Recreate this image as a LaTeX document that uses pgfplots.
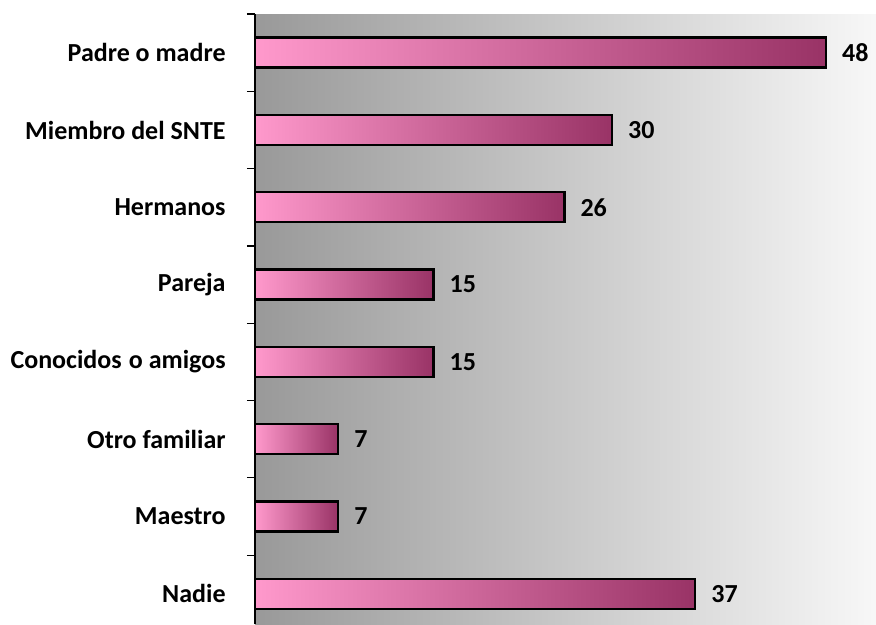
\documentclass[border=0pt]{standalone}
\usepackage{fontspec}
\setmainfont{Carlito}
\usepackage{pgfplots}
\pgfplotsset{compat=1.18}
\definecolor{barpink}{HTML}{FF99CC}
\definecolor{barplum}{HTML}{993366}
\pgfplotsset{
  gradbar/.style={draw=black, line width=1.2pt, left color=barpink, right color=barplum, bar shift=0pt},
}
\begin{document}
\begin{tikzpicture}[font=\fontsize{13}{15}\selectfont\bfseries]
\begin{axis}[
  scale only axis, width=310.5pt, height=305pt,
  xmin=0, xmax=52.2, ymin=-0.5, ymax=7.39,
  y dir=reverse,
  axis x line=none,
  axis y line*=left,
  ytick={0,...,7},
  yticklabels={Padre o madre, Miembro del SNTE, Hermanos, Pareja, Conocidos\hspace{0.05em} o amigos, Otro familiar, Maestro, Nadie},
  minor ytick={-0.5,0.5,...,6.5},
  major tick length=0pt, minor tick length=4pt, tick align=outside,
  tick style={black, line width=0.6pt},
  axis line style={black, line width=0.75pt},
  yticklabel style={inner sep=0pt, xshift=-14.5pt, font=\fontsize{13}{15}\selectfont\bfseries},
  axis background/.style={left color=black!40, right color=black!3},
  xbar, bar width=15pt,
  nodes near coords,
  nodes near coords style={anchor=west, inner sep=0pt, xshift=7.5pt, font=\fontsize{13}{15}\selectfont\bfseries, text=black},
  /pgf/number format/assume math mode=true,
  clip=false,
]
\addplot[gradbar] coordinates {(48,0)};
\addplot[gradbar] coordinates {(30,1)};
\addplot[gradbar] coordinates {(26,2)};
\addplot[gradbar] coordinates {(15,3)};
\addplot[gradbar] coordinates {(15,4)};
\addplot[gradbar] coordinates {(7,5)};
\addplot[gradbar] coordinates {(7,6)};
\addplot[gradbar] coordinates {(37,7)};
\end{axis}
\pgfresetboundingbox
\path[use as bounding box] ([xshift=-127.5pt]current axis.south west) rectangle ([yshift=7pt]current axis.north east);
\end{tikzpicture}
\end{document}
